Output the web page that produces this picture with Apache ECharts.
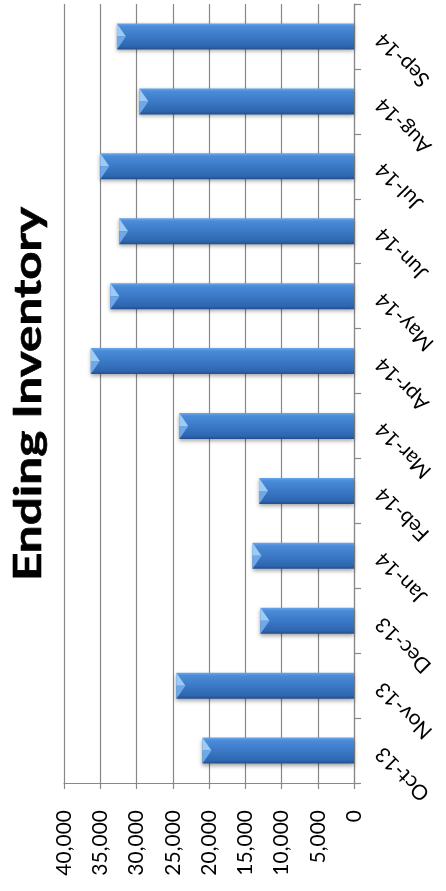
<!DOCTYPE html>
<html>
<head>
<meta charset="utf-8">
<title>Ending Inventory</title>
<script src="https://cdn.jsdelivr.net/npm/echarts@6/dist/echarts.min.js"></script>
<style>
  html, body { margin: 0; padding: 0; background: #ffffff; }
  #chart { width: 446px; height: 891px; }
</style>
</head>
<body>
<div id="chart"></div>
<script>
// Month-end inventory, October 2013 through September 2014
const months = ['Oct-13', 'Nov-13', 'Dec-13', 'Jan-14', 'Feb-14', 'Mar-14',
                'Apr-14', 'May-14', 'Jun-14', 'Jul-14', 'Aug-14', 'Sep-14'];
const endingInventory = [20900, 24500, 12900, 14000, 13100, 24100,
                         36300, 33600, 32400, 35000, 29600, 32700];
const valueTicks = [0, 5000, 10000, 15000, 20000, 25000, 30000, 35000, 40000];
const chartTitle = 'Ending Inventory';

const chart = echarts.init(document.getElementById('chart'), null, { renderer: 'canvas' });

const barThickness = 26;
const gridColor = '#888888';
const labelFont = 'Lato, "Liberation Sans", sans-serif';

const option = {
  backgroundColor: '#ffffff',
  animation: false,
  graphic: [{
    type: 'text',
    x: 29,
    y: 394,
    rotation: Math.PI / 2,
    scaleX: 1.3,
    style: {
      text: chartTitle,
      font: 'bold 38px Lato, "Liberation Sans", sans-serif',
      fill: '#000000',
      stroke: '#000000',
      lineWidth: 0.6,
      align: 'center',
      verticalAlign: 'middle',
      textAlign: 'center',
      textVerticalAlign: 'middle'
    }
  }],
  grid: { left: 64, right: 92, top: 4, bottom: 108, containLabel: false },
  xAxis: {
    type: 'value',
    inverse: true,
    position: 'bottom',
    min: valueTicks[0],
    max: valueTicks[valueTicks.length - 1],
    interval: valueTicks[1] - valueTicks[0],
    axisLine: { show: true, lineStyle: { color: gridColor, width: 1.2 } },
    axisTick: { show: true, length: 6, lineStyle: { color: gridColor, width: 1.2 } },
    splitLine: { show: true, lineStyle: { color: gridColor, width: 1.2 } },
    axisLabel: {
      rotate: 90,
      margin: 27,
      color: '#000000',
      fontFamily: labelFont,
      fontSize: 21,
      formatter: v => v.toLocaleString('en-US')
    }
  },
  yAxis: {
    type: 'category',
    position: 'right',
    data: months,
    axisLine: { show: true, lineStyle: { color: gridColor, width: 1.2 } },
    axisTick: { show: true, length: 7, alignWithLabel: false, lineStyle: { color: gridColor, width: 1.2 } },
    splitLine: { show: false },
    axisLabel: {
      rotate: 135,
      margin: 25,
      color: '#000000',
      fontFamily: labelFont,
      fontSize: 21,
      align: 'right',
      verticalAlign: 'middle'
    }
  },
  series: [
    {
      name: chartTitle,
      type: 'bar',
      data: endingInventory,
      barWidth: barThickness,
      itemStyle: {
        color: new echarts.graphic.LinearGradient(0, 0, 0, 1, [
          { offset: 0, color: '#6aa6ea' },
          { offset: 0.12, color: '#4a8bd8' },
          { offset: 0.5, color: '#3b79c6' },
          { offset: 0.88, color: '#2e66b0' },
          { offset: 1, color: '#234f8c' }
        ]),
        shadowColor: 'rgba(0, 0, 0, 0.35)',
        shadowBlur: 4,
        shadowOffsetY: 2
      },
      z: 2
    },
    {
      // bevelled cap at the value end of each bar
      name: 'cap',
      type: 'custom',
      data: endingInventory.map((v, i) => [v, i]),
      encode: { x: 0, y: 1 },
      z: 3,
      silent: true,
      renderItem: function (params, api) {
        const end = api.coord([api.value(0), api.value(1)]);
        const half = barThickness / 2;
        const depth = 9;
        const x = end[0], y = end[1];
        return {
          type: 'group',
          children: [
            {
              type: 'polygon',
              shape: { points: [[x, y - half], [x + depth, y], [x, y]] },
              style: { fill: '#9ccbf6' }
            },
            {
              type: 'polygon',
              shape: { points: [[x, y], [x + depth, y], [x, y + half]] },
              style: { fill: '#6ea8e8' }
            }
          ]
        };
      }
    }
  ]
};

chart.setOption(option);
</script>
</body>
</html>
